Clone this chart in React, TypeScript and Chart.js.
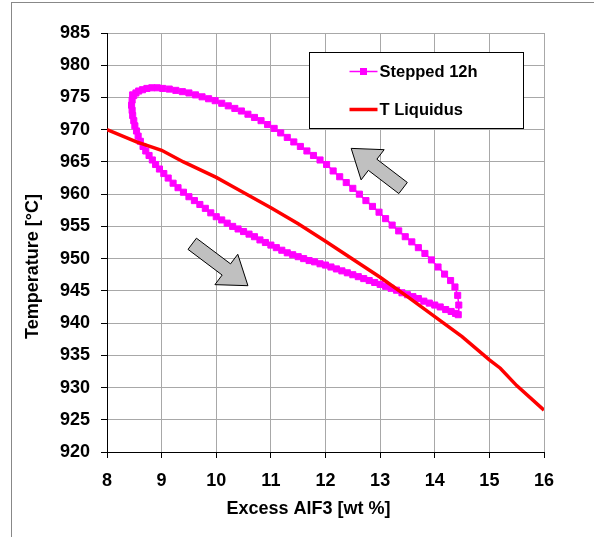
import { useEffect, useRef } from 'react';
import { Chart, registerables } from 'chart.js';

Chart.register(...registerables);

// Axis ranges
const xRange = [8, 16];
const xStep = 1;
const tempRange = [920, 985];
const tempStep = 5;

const xTitle = 'Excess AlF3 [wt %]';
const yTitle = 'Temperature [°C]';

const steppedLabel = 'Stepped 12h';
const liquidusLabel = 'T Liquidus';

// Liquidus temperature vs. excess AlF3
const liquidusX = [8, 8.54, 9.0, 9.4, 10.0, 10.3, 11.0, 11.5, 12.0, 12.5, 13.0, 13.5, 14.0, 14.5, 15.0, 15.2, 15.5, 16.0];
const liquidusT = [970, 968.1, 966.8, 965.0, 962.6, 961.2, 957.9, 955.4, 952.7, 949.9, 947.1, 944.1, 941.0, 937.9, 934.3, 933.0, 930.3, 926.5];

// Stepped 12h cycle: cooling branch (left to right) then heating branch (right to left)
const steppedX = [
  8.47, 8.46, 8.45, 8.46, 8.47, 8.49, 8.51, 8.54, 8.57, 8.61, 8.66, 8.71, 8.77, 8.83, 8.89, 8.96, 9.04, 9.12,
  9.21, 9.30, 9.40, 9.50, 9.60, 9.70, 9.80, 9.90, 10.00, 10.10, 10.20, 10.30, 10.40, 10.50, 10.60, 10.70,
  10.80, 10.90, 11.00, 11.10, 11.20, 11.30, 11.40, 11.50, 11.60, 11.70, 11.80, 11.90, 12.00, 12.10, 12.20,
  12.30, 12.40, 12.50, 12.60, 12.70, 12.80, 12.90, 13.00, 13.10, 13.20, 13.30, 13.40, 13.50, 13.60, 13.70,
  13.80, 13.90, 14.00, 14.10, 14.20, 14.30, 14.38,
  14.43, 14.44, 14.42, 14.37, 14.29, 14.18, 14.06, 13.94, 13.82, 13.70, 13.58, 13.46, 13.34, 13.22, 13.10,
  12.98, 12.86, 12.74, 12.62, 12.50, 12.38, 12.26, 12.14, 12.02, 11.90, 11.78, 11.66, 11.54, 11.42, 11.30,
  11.18, 11.06, 10.94, 10.82, 10.70, 10.58, 10.46, 10.34, 10.22, 10.10, 9.98, 9.86, 9.74, 9.62, 9.50, 9.38,
  9.26, 9.14, 9.02, 8.92, 8.82, 8.73, 8.65, 8.58, 8.53, 8.49,
];
const steppedT = [
  975.4, 974.6, 973.8, 973.0, 972.2, 971.4, 970.6, 969.8, 969.0, 968.2, 967.4, 966.7, 966.0, 965.3, 964.6, 963.9, 963.2, 962.5,
  961.7, 961.0, 960.3, 959.6, 959.0, 958.4, 957.8, 957.1, 956.5, 956.0, 955.5, 955.0, 954.6, 954.2, 953.8, 953.4,
  952.9, 952.5, 952.1, 951.7, 951.3, 950.9, 950.6, 950.3, 950.0, 949.7, 949.5, 949.2, 949.0, 948.7, 948.4,
  948.1, 947.8, 947.5, 947.2, 946.9, 946.6, 946.3, 946.0, 945.7, 945.4, 945.1, 944.7, 944.4, 944.1, 943.8,
  943.4, 943.1, 942.8, 942.5, 942.1, 941.8, 941.5,
  941.3, 942.8, 944.3, 945.6, 946.6, 947.6, 948.7, 949.8, 950.8, 951.7, 952.6, 953.4, 954.3, 955.2, 956.2,
  957.2, 958.1, 959.0, 960.0, 960.9, 961.8, 962.7, 963.6, 964.6, 965.3, 966.0, 966.7, 967.4, 968.1, 968.8,
  969.5, 970.2, 970.8, 971.4, 971.9, 972.4, 972.9, 973.3, 973.7, 974.1, 974.5, 974.8, 975.1, 975.4, 975.7, 975.9,
  976.1, 976.3, 976.4, 976.5, 976.5, 976.4, 976.2, 976.0, 975.7, 975.3,
];

// Direction arrows (tail -> tip), in data units
const trendArrows = [
  { from: { x: 13.42, y: 960.95 }, to: { x: 12.47, y: 967.1 } },
  { from: { x: 9.56, y: 952.3 }, to: { x: 10.58, y: 945.8 } },
];

const FONT = '"Liberation Sans", Arial, Helvetica, sans-serif';
const MAGENTA = '#FF00FF';
const RED = '#FF0000';

function drawBlockArrow(ctx: CanvasRenderingContext2D, x0: number, y0: number, x1: number, y1: number) {
  const shaftHalf = 7;
  const headHalf = 19;
  const headLen = 27;
  const dx = x1 - x0;
  const dy = y1 - y0;
  const len = Math.hypot(dx, dy);
  const ux = dx / len;
  const uy = dy / len;
  const nx = -uy;
  const ny = ux;
  const bx = x1 - ux * headLen;
  const by = y1 - uy * headLen;
  const pts = [
    [x0 + nx * shaftHalf, y0 + ny * shaftHalf],
    [bx + nx * shaftHalf, by + ny * shaftHalf],
    [bx + nx * headHalf, by + ny * headHalf],
    [x1, y1],
    [bx - nx * headHalf, by - ny * headHalf],
    [bx - nx * shaftHalf, by - ny * shaftHalf],
    [x0 - nx * shaftHalf, y0 - ny * shaftHalf],
  ];
  ctx.beginPath();
  pts.forEach(([px, py], i) => (i === 0 ? ctx.moveTo(px, py) : ctx.lineTo(px, py)));
  ctx.closePath();
  ctx.fillStyle = '#C0C0C0';
  ctx.fill();
  ctx.strokeStyle = '#000';
  ctx.lineWidth = 1;
  ctx.stroke();
}

const decorations = {
  id: 'decorations',
  beforeDraw(chart: any) {
    const ctx = chart.ctx as CanvasRenderingContext2D;
    ctx.save();
    ctx.fillStyle = '#fff';
    ctx.fillRect(0, 0, chart.width, chart.height);
    ctx.strokeStyle = '#888';
    ctx.lineWidth = 1;
    ctx.strokeRect(11.5, 2.5, chart.width + 20, chart.height + 20);
    ctx.restore();
  },
  afterDatasetsDraw(chart: any) {
    const ctx = chart.ctx as CanvasRenderingContext2D;
    const xs = chart.scales.x;
    const ys = chart.scales.y;
    const area = chart.chartArea;
    ctx.save();
    trendArrows.forEach((a) => {
      drawBlockArrow(
        ctx,
        xs.getPixelForValue(a.from.x),
        ys.getPixelForValue(a.from.y),
        xs.getPixelForValue(a.to.x),
        ys.getPixelForValue(a.to.y)
      );
    });

    // legend box
    const bl = Math.round(area.left + 202) + 0.5;
    const bt = Math.round(area.top + 19) + 0.5;
    const bw = 214;
    const bh = 76;
    ctx.fillStyle = '#fff';
    ctx.fillRect(bl, bt, bw, bh);
    ctx.strokeStyle = '#000';
    ctx.lineWidth = 1;
    ctx.strokeRect(bl, bt, bw, bh);

    const ds = chart.data.datasets;
    const rows = [bt + 19, bt + 57];
    ctx.font = `bold 16.5px ${FONT}`;
    ctx.textBaseline = 'middle';
    ctx.textAlign = 'left';
    ds.forEach((d: any, i: number) => {
      const y = rows[i];
      ctx.strokeStyle = d.borderColor;
      ctx.lineWidth = d.borderWidth;
      ctx.beginPath();
      ctx.moveTo(bl + 40, y);
      ctx.lineTo(bl + 68, y);
      ctx.stroke();
      if (d.pointRadius > 0) {
        ctx.fillStyle = d.borderColor;
        ctx.fillRect(bl + 50.5, y - 3.5, 7, 7);
      }
      ctx.fillStyle = '#000';
      ctx.fillText(d.label, bl + 70, y + 1);
    });

    // axis titles
    ctx.fillStyle = '#000';
    ctx.font = `bold 18px ${FONT}`;
    ctx.textAlign = 'center';
    ctx.textBaseline = 'middle';
    ctx.fillText(xTitle, (area.left + area.right) / 2 - 17, area.bottom + 57);
    ctx.translate(area.left - 74, (area.top + area.bottom) / 2 + 24);
    ctx.rotate(-Math.PI / 2);
    ctx.fillText(yTitle, 0, 0);
    ctx.restore();
  },
};

export default function App() {
  const canvasRef = useRef<HTMLCanvasElement | null>(null);

  useEffect(() => {
    const canvas = canvasRef.current;
    if (!canvas) return;
    const tickFont = { family: FONT, size: 18, weight: 'bold' as const };
    const chart = new Chart(canvas, {
      type: 'scatter',
      data: {
        datasets: [
          {
            label: steppedLabel,
            data: steppedX.map((x, i) => ({ x, y: steppedT[i] })),
            showLine: true,
            borderColor: MAGENTA,
            backgroundColor: MAGENTA,
            borderWidth: 1.5,
            pointStyle: 'rect',
            pointRadius: 4.3,
            pointBorderWidth: 1,
            pointBackgroundColor: MAGENTA,
            pointBorderColor: MAGENTA,
            order: 2,
          },
          {
            label: liquidusLabel,
            data: liquidusX.map((x, i) => ({ x, y: liquidusT[i] })),
            showLine: true,
            borderColor: RED,
            backgroundColor: RED,
            borderWidth: 3.5,
            pointRadius: 0,
            order: 1,
          },
        ],
      },
      options: {
        animation: false,
        responsive: false,
        devicePixelRatio: 1,
        events: [],
        layout: { padding: { left: 0, right: 50, top: 33, bottom: 0 } },
        plugins: { legend: { display: false }, tooltip: { enabled: false } },
        scales: {
          x: {
            type: 'linear',
            min: xRange[0],
            max: xRange[1],
            ticks: { stepSize: xStep, color: '#000', font: tickFont, padding: 12 },
            grid: { color: '#a8a8a8', lineWidth: 1, tickColor: '#000', tickLength: 6 },
            border: { color: '#000', width: 1 },
            afterFit: (s: any) => {
              s.height = 85;
            },
          },
          y: {
            type: 'linear',
            min: tempRange[0],
            max: tempRange[1],
            ticks: { stepSize: tempStep, color: '#000', font: tickFont, padding: 11 },
            grid: { color: '#a8a8a8', lineWidth: 1, tickColor: '#000', tickLength: 6 },
            border: { color: '#000', width: 1 },
            afterFit: (s: any) => {
              s.width = 107;
            },
          },
        },
      },
      plugins: [decorations],
    });
    return () => chart.destroy();
  }, []);

  return (
    <div style={{ position: 'absolute', left: 0, top: 0, width: 594, height: 537 }}>
      <canvas ref={canvasRef} width={594} height={537} style={{ display: 'block' }} />
    </div>
  );
}
